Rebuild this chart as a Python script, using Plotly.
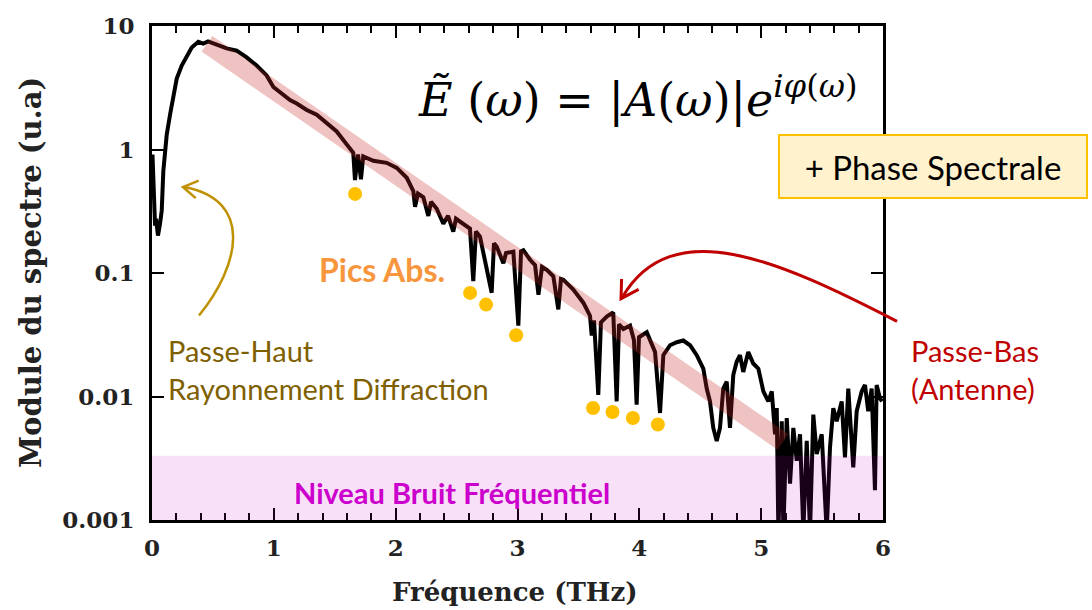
import math
import plotly.graph_objects as go

# ---------------- data ----------------
freq_thz = [0.004, 0.016, 0.025, 0.033, 0.049, 0.066, 0.080, 0.093, 0.121, 0.148,
            0.175, 0.203, 0.244, 0.285, 0.326, 0.380, 0.421, 0.46, 0.531, 0.613,
            0.695, 0.777, 0.859, 0.941, 0.996, 1.078, 1.133, 1.188, 1.270, 1.352,
            1.434, 1.516, 1.598, 1.652, 1.666, 1.691, 1.715, 1.734, 1.817, 1.926,
            2.009, 2.091, 2.145, 2.159, 2.183, 2.227, 2.268, 2.290, 2.337, 2.391,
            2.430, 2.473, 2.495, 2.555, 2.610, 2.637, 2.659, 2.692, 2.788, 2.807,
            2.829, 2.884, 2.906, 2.966, 3.007, 3.029, 3.048, 3.103, 3.144, 3.172,
            3.201, 3.240, 3.294, 3.335, 3.357, 3.376, 3.458, 3.540, 3.595, 3.609,
            3.628, 3.663, 3.685, 3.735, 3.786, 3.814, 3.833, 3.869, 3.924, 3.956,
            3.978, 3.997, 4.061, 4.129, 4.170, 4.197, 4.252, 4.307, 4.361, 4.416,
            4.471, 4.525, 4.553, 4.580, 4.607, 4.635, 4.662, 4.689, 4.717, 4.744,
            4.771, 4.799, 4.826, 4.853, 4.894, 4.935, 4.977, 5.018, 5.059, 5.087,
            5.114, 5.128, 5.141, 5.169, 5.182, 5.210, 5.237, 5.264, 5.292, 5.319,
            5.346, 5.374, 5.401, 5.428, 5.456, 5.497, 5.538, 5.565, 5.592, 5.620,
            5.661, 5.688, 5.715, 5.756, 5.784, 5.825, 5.852, 5.879, 5.907, 5.934,
            5.948, 5.975, 5.992]

spectrum = [0.91, 0.44, 0.242, 0.275, 0.201, 0.251, 0.321, 0.67, 1.32, 1.91,
            2.75, 3.75, 4.79, 5.75, 6.70, 7.45, 7.2, 7.5, 7.01, 6.58,
            6.31, 5.57, 4.79, 3.98, 3.21, 2.75, 2.51, 2.36, 2.09, 1.91,
            1.64, 1.40, 1.10, 0.94, 0.565, 0.91, 0.575, 0.88, 0.81, 0.78,
            0.71, 0.59, 0.46, 0.344, 0.44, 0.41, 0.29, 0.377, 0.331, 0.251,
            0.29, 0.216, 0.275, 0.251, 0.229, 0.0859, 0.217, 0.197, 0.0692, 0.174,
            0.164, 0.12, 0.145, 0.149, 0.0375, 0.15, 0.153, 0.128, 0.116, 0.0667,
            0.112, 0.106, 0.0942, 0.0508, 0.0895, 0.0883, 0.0735, 0.0575, 0.0451, 0.0312,
            0.0413, 0.0103, 0.0398, 0.0445, 0.0479, 0.00912, 0.0384, 0.0352, 0.0375, 0.0286,
            0.00859, 0.0302, 0.0331, 0.0229, 0.00735, 0.0216, 0.026, 0.0275, 0.0284, 0.026,
            0.0216, 0.0168, 0.0116, 0.00912, 0.00557, 0.00437, 0.00557, 0.0116, 0.0132, 0.00557,
            0.0149, 0.0191, 0.0216, 0.0158, 0.0229, 0.0185, 0.0168, 0.011, 0.00912, 0.011,
            0.00494, 0.00805, 0.0008, 0.00631, 0.0008, 0.0067, 0.00197, 0.00557, 0.00302, 0.00494,
            0.0008, 0.00437, 0.0008, 0.00714, 0.00342, 0.00494, 0.0008, 0.00385, 0.00805, 0.00631,
            0.00912, 0.00321, 0.0116, 0.00267, 0.00759, 0.011, 0.0124, 0.00759, 0.0116, 0.00174,
            0.0124, 0.00968, 0.00912]

# low-pass trend band (start / end)
band_x = [0.451, 5.179]
band_y = [7.18, 0.00429]

# absorption peaks markers
peak_x = [1.667, 2.611, 2.742, 2.989, 3.62, 3.78, 3.947, 4.152]
peak_y = [0.437, 0.069, 0.0555, 0.0313, 0.00806, 0.0075, 0.0067, 0.00594]

y_tickvals = [0.001, 0.01, 0.1, 1, 10]
y_ticktext = ["0.001", "0.01", "0.1", "1", "10"]
x_tickvals = [0, 1, 2, 3, 4, 5, 6]

# ---------------- layout helpers (pixel -> paper) ----------------
W, H = 1092, 610
L, R, T, B = 152, 883, 20, 520


def fx(p):
    return (p - L) / (R - L)


def fy(p):
    return (B - p) / (B - T)


SERIF = "DejaVu Serif"
SANS = "Lato"

fig = go.Figure()

fig.add_trace(go.Scatter(x=freq_thz, y=spectrum, mode="lines",
                         line=dict(color="black", width=4),
                         hoverinfo="skip", showlegend=False))
fig.add_trace(go.Scatter(x=band_x, y=band_y, mode="lines",
                         line=dict(color="rgba(200,40,40,0.28)", width=19),
                         hoverinfo="skip", showlegend=False))
fig.add_trace(go.Scatter(x=peak_x, y=peak_y, mode="markers",
                         marker=dict(color="#FFC000", size=14),
                         hoverinfo="skip", showlegend=False))

axis_common = dict(showline=True, linewidth=3, linecolor="black", mirror="ticks",
                   ticks="inside", ticklen=12, tickwidth=1.5, tickcolor="black",
                   showgrid=False, zeroline=False,
                   tickfont=dict(family=SERIF, size=23, color="#222", weight="bold"))

fig.update_layout(
    width=W, height=H,
    margin=dict(l=L, r=W - R, t=T, b=H - B),
    paper_bgcolor="white", plot_bgcolor="white",
    showlegend=False,
    xaxis=dict(range=[0, 6], tickvals=x_tickvals, ticklabelstandoff=5,
               minor=dict(ticks="inside", ticklen=7, dtick=0.2, tick0=0,
                          tickcolor="black", tickwidth=1.5),
               **axis_common),
    yaxis=dict(type="log", range=[-3, 1], tickvals=y_tickvals, ticktext=y_ticktext,
               ticklabelstandoff=10, **axis_common),
)

# noise floor band
fig.add_shape(type="rect", xref="paper", yref="paper", x0=0, x1=1,
              y0=0, y1=fy(455), fillcolor="rgba(204,0,204,0.12)",
              line=dict(width=0), layer="above")


def cubic(p0, p1, p2, p3):
    pts = [p0, p1, p2, p3]
    s = "M {:.4f},{:.4f} C ".format(fx(p0[0]), fy(p0[1]))
    s += " ".join("{:.4f},{:.4f}".format(fx(p[0]), fy(p[1])) for p in pts[1:])
    return s


def chevron(tip, back, length, half_angle_deg=30):
    """Open arrow head: two wings from the tip, opening towards `back`."""
    dx, dy = back[0] - tip[0], back[1] - tip[1]
    n = math.hypot(dx, dy)
    dx, dy = dx / n, dy / n
    a = math.radians(half_angle_deg)
    wings = []
    for s in (1, -1):
        c, si = math.cos(s * a), math.sin(s * a)
        wx, wy = dx * c - dy * si, dx * si + dy * c
        wings.append((tip[0] + wx * length, tip[1] + wy * length))
    return "M {:.4f},{:.4f} L {:.4f},{:.4f} L {:.4f},{:.4f}".format(
        fx(wings[0][0]), fy(wings[0][1]), fx(tip[0]), fy(tip[1]),
        fx(wings[1][0]), fy(wings[1][1]))


GOLD = "#BF9000"
RED = "#C00000"

# golden arrow (high-pass)
fig.add_shape(type="path", xref="paper", yref="paper",
              path=cubic((199, 313), (240, 262), (254, 196), (184, 183)),
              line=dict(color=GOLD, width=2.5), layer="above")
fig.add_shape(type="path", xref="paper", yref="paper",
              path=chevron((183, 183), (201, 186), 17, 32),
              line=dict(color=GOLD, width=2.5), layer="above")

# red arrow (low-pass)
fig.add_shape(type="path", xref="paper", yref="paper",
              path=cubic((897, 319), (780, 258), (672, 208), (622, 295)),
              line=dict(color=RED, width=3), layer="above")
fig.add_shape(type="path", xref="paper", yref="paper",
              path=chevron((621, 296), (634, 275), 20, 30),
              line=dict(color=RED, width=3), layer="above")

C = dict(xref="paper", yref="paper", showarrow=False, xanchor="center", yanchor="middle")

# axis titles
fig.add_annotation(x=fx(514), y=fy(593), text="Fréquence (THz)",
                   font=dict(family=SERIF, size=26, color="#222", weight="bold"), **C)
fig.add_annotation(x=fx(31), y=fy(270), text="Module du spectre (u.a)", textangle=-90,
                   font=dict(family=SERIF, size=29, color="#222", weight="bold"), **C)

# equation
fig.add_annotation(x=fx(638), y=fy(92),
                   text="<i>Ẽ</i> (<i>ω</i>) = |<i>A</i>(<i>ω</i>)|<i>e</i><sup><i>iφ</i>(<i>ω</i>)</sup>",
                   font=dict(family=SERIF, size=46, color="black"), **C)

# phase box
fig.add_annotation(x=fx(933), y=fy(162.5), width=306, height=61,
                   text="+ Phase Spectrale",
                   bgcolor="#FFF2CC", bordercolor="#FFC000", borderwidth=2, borderpad=0,
                   font=dict(family=SANS, size=33, color="black"), **C)

fig.add_annotation(x=fx(382), y=fy(266), text="<b>Pics Abs.</b>",
                   font=dict(family=SANS, size=32, color="#F7963C"), **C)

fig.add_annotation(x=fx(166), y=fy(368), xanchor="left", yanchor="middle", align="left",
                   xref="paper", yref="paper", showarrow=False,
                   text="Passe-Haut<br>Rayonnement Diffraction",
                   font=dict(family=SANS, size=29, color="#7F6000"))

fig.add_annotation(x=fx(909), y=fy(368), xanchor="left", yanchor="middle", align="left",
                   xref="paper", yref="paper", showarrow=False,
                   text="Passe-Bas<br>(Antenne)",
                   font=dict(family=SANS, size=29, color=RED))

fig.add_annotation(x=fx(452), y=fy(492), text="<b>Niveau Bruit Fréquentiel</b>",
                   font=dict(family=SANS, size=29, color="#CC00CC"), **C)

fig.write_html("out.html")
